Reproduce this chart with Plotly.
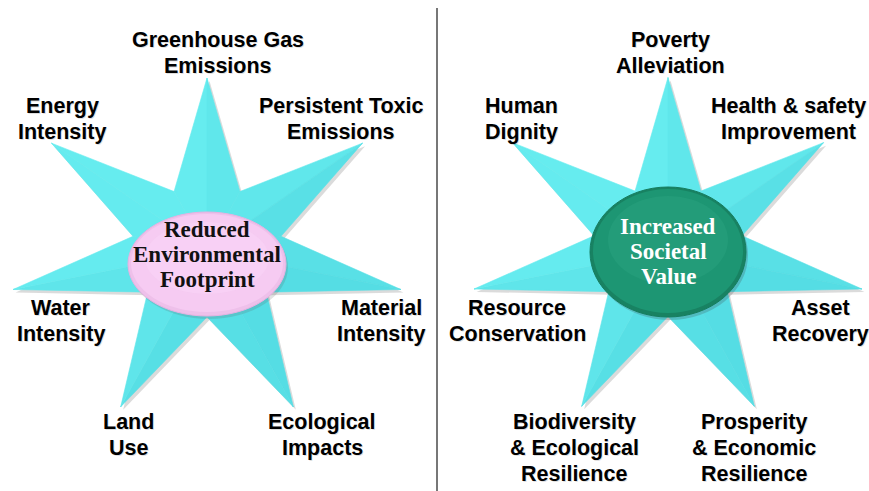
import numpy as np
import plotly.graph_objects as go

# ---------------- data ----------------
left_labels = [
    ["Greenhouse Gas", "Emissions"],
    ["Persistent Toxic", "Emissions"],
    ["Material", "Intensity"],
    ["Ecological", "Impacts"],
    ["Land", "Use"],
    ["Water", "Intensity"],
    ["Energy", "Intensity"],
]
right_labels = [
    ["Poverty", "Alleviation"],
    ["Health & safety", "Improvement"],
    ["Asset", "Recovery"],
    ["Prosperity", "& Economic", "Resilience"],
    ["Biodiversity", "& Ecological", "Resilience"],
    ["Resource", "Conservation"],
    ["Human", "Dignity"],
]
left_center_text = ["Reduced", "Environmental", "Footprint"]
right_center_text = ["Increased", "Societal", "Value"]

# ---------------- layout / geometry ----------------
W, H = 869, 491
N_POINTS = 7
left_label_pos = [(218, 40), (341, 105.5), (381, 307.5), (322, 422), (128, 422), (61, 307.5), (62, 105.5)]
right_label_pos = [(670, 40), (788, 105.5), (820, 307.5), (754, 422), (574, 422), (517, 307.5), (521, 105.5)]
LINE_STEP = 26

stars = [
    dict(cx=207, cy=251, R=173, r=66, sx=1.15),
    dict(cx=668, cy=250.5, R=173, r=66, sx=1.15),
]

fig = go.Figure()


def pt(s, rad, ang_deg):
    a = np.radians(ang_deg)
    return s["cx"] + s["sx"] * rad * np.cos(a), s["cy"] - rad * np.sin(a)


def add_star(s):
    step = 360.0 / N_POINTS
    xs, ys = [], []
    for k in range(N_POINTS):
        a = 90 - k * step
        x, y = pt(s, s["R"], a)
        xs.append(x); ys.append(y)
        x, y = pt(s, s["r"], a - step / 2)
        xs.append(x); ys.append(y)
    xs.append(xs[0]); ys.append(ys[0])
    fig.add_trace(go.Scatter(x=[v + 2.5 for v in xs], y=[v + 3 for v in ys], fill="toself",
                             mode="lines", line=dict(width=0, color="rgba(0,0,0,0)"),
                             fillcolor="rgba(110,110,110,0.25)", hoverinfo="skip", showlegend=False))
    base = np.array([94, 229, 234])
    for k in range(N_POINTS):
        a = 90 - k * step
        tx, ty = pt(s, s["R"], a)
        for side in (+1, -1):
            ia = a + side * step / 2
            ix, iy = pt(s, s["r"], ia)
            shade = np.cos(np.radians(ia - 135))
            col = np.clip(base + shade * np.array([9, 8, 6]), 0, 255).astype(int)
            c = f"rgb({col[0]},{col[1]},{col[2]})"
            fig.add_trace(go.Scatter(x=[s["cx"], ix, tx, s["cx"]], y=[s["cy"], iy, ty, s["cy"]],
                                     fill="toself", mode="lines", line=dict(width=0.6, color=c),
                                     fillcolor=c, hoverinfo="skip", showlegend=False))


for s in stars:
    add_star(s)

shapes = []


def ellipse(cx, cy, rx, ry, color, line=None):
    shapes.append(dict(type="circle", xref="x", yref="y", x0=cx - rx, x1=cx + rx, y0=cy - ry, y1=cy + ry,
                       fillcolor=color, line=dict(width=1 if line else 0, color=line or color), layer="above"))


# shadows of ellipses
ellipse(209, 267, 79, 52, "rgba(90,90,90,0.18)")
ellipse(670, 255, 78, 65, "rgba(60,60,60,0.22)")
# pink ellipse
ellipse(207, 264, 79, 52, "rgb(238,192,234)", "rgb(230,178,226)")
ellipse(207, 263, 76, 49, "rgb(246,203,242)")
ellipse(207, 258, 62, 36, "rgba(250,214,247,0.5)")
# teal ellipse
ellipse(668, 252, 78, 65, "rgb(24,130,98)", "rgb(22,124,94)")
ellipse(668, 251, 75, 62, "rgb(29,150,115)")
ellipse(668, 240, 60, 44, "rgba(44,166,130,0.4)")

# divider
shapes.append(dict(type="line", xref="x", yref="y", x0=437, x1=437, y0=8, y1=491,
                   line=dict(color="#4a4a4a", width=1.5), layer="above"))

annotations = []
LABEL_FONT = "Liberation Sans, Arial, sans-serif"
SERIF = "Liberation Serif, Times New Roman, serif"


def add_text(x, y, txt, size, family, color, shadow=True):
    if shadow:
        annotations.append(dict(x=x + 1.2, y=y + 1.4, xref="x", yref="y", text=f"<b>{txt}</b>", showarrow=False,
                                xanchor="center", yanchor="middle",
                                font=dict(size=size, family=family, color="rgba(0,0,0,0.13)")))
    annotations.append(dict(x=x, y=y, xref="x", yref="y", text=f"<b>{txt}</b>", showarrow=False,
                            xanchor="center", yanchor="middle", font=dict(size=size, family=family, color=color)))


for labels, poss in ((left_labels, left_label_pos), (right_labels, right_label_pos)):
    for lines, (x, y) in zip(labels, poss):
        for i, ln in enumerate(lines):
            add_text(x, y + i * LINE_STEP, ln, 21.5, LABEL_FONT, "#000000")

for i, ln in enumerate(left_center_text):
    add_text(207, 229 + i * 25, ln, 23, SERIF, "#111111", shadow=False)
for i, ln in enumerate(right_center_text):
    add_text(668, 226 + i * 25, ln, 23, SERIF, "#ffffff", shadow=False)

fig.update_layout(
    width=W, height=H, margin=dict(l=0, r=0, t=0, b=0),
    paper_bgcolor="white", plot_bgcolor="white",
    xaxis=dict(range=[0, W], visible=False, fixedrange=True),
    yaxis=dict(range=[H, 0], visible=False, fixedrange=True),
    shapes=shapes, annotations=annotations, showlegend=False,
)

fig.write_html("out.html", config={"displayModeBar": False},
               post_script="document.body.style.margin='0';document.body.style.overflow='hidden';")
